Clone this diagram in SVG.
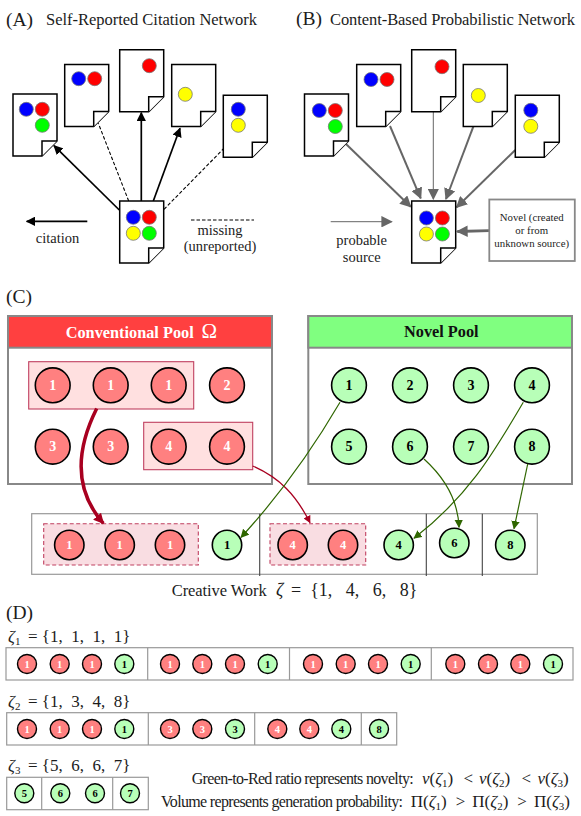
<svg xmlns="http://www.w3.org/2000/svg" width="581" height="816" viewBox="0 0 581 816">
<style>
text{font-family:"Liberation Serif","Times New Roman",serif;fill:#1c1c1c}
.doc{fill:#fff;stroke:#000;stroke-width:1.5;stroke-linejoin:miter}
.dc{stroke:#777;stroke-width:.8}
.b{fill:#0000ff}.rd{fill:#ff0000}.gn{fill:#00ff00}.y{fill:#ffff00}
.pl{font-size:19.5px}.tt{font-size:16.5px}.lg{font-size:14.5px;text-anchor:middle}.sm{font-size:10.8px;text-anchor:middle}
.n circle{stroke:#000;stroke-width:1.6}
.n text{font-weight:bold;text-anchor:middle;dominant-baseline:central}
.r circle{fill:#ff8080}.r text{fill:#fff}
.g circle{fill:#b8ffb8}.g text{fill:#000}
.s1 text{font-size:14px}.s2 text{font-size:12.5px}.s3 text{font-size:10.5px}.s3 circle{stroke-width:1.4}
.pool{fill:#fff;stroke:#888;stroke-width:2}
.hl{fill:#ffe0e0;stroke:#c04060;stroke-width:1.1}
.dh{fill:#f9dde2;stroke:#c04060;stroke-width:1.1;stroke-dasharray:4 2.5}
.wk{fill:#fff;stroke:#999;stroke-width:1.2}
.dv{stroke:#444;stroke-width:1.1}
.dv2{stroke:#999;stroke-width:1.2}
.cb{fill:none;stroke:#000;stroke-width:1.7}
.cd{fill:none;stroke:#000;stroke-width:1.1;stroke-dasharray:3.5 2}
.cg{fill:none;stroke:#666;stroke-width:2}
.m{font-size:17px;white-space:pre}.ml{font-size:18px;white-space:pre}.ms{font-size:16px}.mf{font-size:17px}.i{font-style:italic}
</style>
<defs>
<g id="page"><path class="doc" d="M0,0H44V47L29,62H0Z"/><path class="doc" d="M29,62V47H44" /></g>
<marker id="ak" markerUnits="userSpaceOnUse" viewBox="0 0 10 10" markerWidth="9.5" markerHeight="9.5" refX="9" refY="5" orient="auto"><path d="M0,0L10,5L0,10Z" fill="#000"/></marker>
<marker id="ag" markerUnits="userSpaceOnUse" viewBox="0 0 10 10" markerWidth="11.5" markerHeight="11.5" refX="9" refY="5" orient="auto"><path d="M0,0L10,5L0,10Z" fill="#666"/></marker>
<marker id="ar" markerUnits="userSpaceOnUse" viewBox="0 0 10 10" markerWidth="10.5" markerHeight="10.5" refX="9" refY="5" orient="auto"><path d="M0,0L10,5L0,10Z" fill="#a80020"/></marker>
<marker id="ar2" markerUnits="userSpaceOnUse" viewBox="0 0 10 10" markerWidth="7.5" markerHeight="7.5" refX="9" refY="5" orient="auto"><path d="M0,0L10,5L0,10Z" fill="#a80020"/></marker>
<marker id="agn" markerUnits="userSpaceOnUse" viewBox="0 0 10 10" markerWidth="8.5" markerHeight="8.5" refX="9" refY="5" orient="auto"><path d="M0,0L10,5L0,10Z" fill="#2f6600"/></marker>
</defs>

<g id="titles">
<text class="pl" x="6" y="26">(A)</text>
<text class="tt" x="46" y="25" textLength="211">Self-Reported Citation Network</text>
<text class="pl" x="296" y="25">(B)</text>
<text class="tt" x="330" y="25" textLength="245">Content-Based Probabilistic Network</text>
<text class="pl" x="6" y="303">(C)</text>
<text class="pl" x="6" y="619">(D)</text>
</g>

<g id="connectors">
<path class="cb" marker-end="url(#ak)" d="M119.3,210L54,145.7"/>
<path class="cd" d="M128.7,201L98.3,123.3"/>
<path class="cb" marker-end="url(#ak)" d="M141.3,201V112.7"/>
<path class="cb" marker-end="url(#ak)" d="M153.3,201L180,128.3"/>
<path class="cd" d="M164,209.3L223.3,149"/>
<path class="cb" marker-end="url(#ak)" d="M87.3,221.3H26.7"/>
<path class="cd" d="M191,220H254"/>
<path class="cg" marker-end="url(#ag)" d="M346,144L410.7,206.7"/>
<path class="cg" marker-end="url(#ag)" d="M390,126L420.7,198.3"/>
<path class="cg" style="stroke-width:1" marker-end="url(#ag)" d="M433.3,112V199"/>
<path class="cg" marker-end="url(#ag)" d="M473.3,126.7L446,199"/>
<path class="cg" marker-end="url(#ag)" d="M515.3,150L456.7,207.3"/>
<path class="cg" style="stroke-width:1" marker-end="url(#ag)" d="M330.7,221.7H391.7"/>
<path class="cg" style="stroke-width:2.8" marker-end="url(#ag)" d="M489.3,230.7L457.3,231.5"/>
</g>

<g id="a-doc1" transform="translate(13,94)"><use href="#page"/><circle class="dc b" cx="13.3" cy="15.3" r="7"/><circle class="dc rd" cx="29.3" cy="15.3" r="7"/><circle class="dc gn" cx="29.3" cy="31.3" r="7"/></g>
<g id="a-doc2" transform="translate(64.7,64.5)"><use href="#page"/><circle class="dc b" cx="14" cy="14.2" r="7"/><circle class="dc rd" cx="30" cy="14.2" r="7"/></g>
<g id="a-doc3" transform="translate(119.7,49.7)"><use href="#page"/><circle class="dc rd" cx="29.6" cy="16" r="7"/></g>
<g id="a-doc4" transform="translate(171.7,64.5)"><use href="#page"/><circle class="dc y" cx="13.6" cy="29.8" r="7"/></g>
<g id="a-doc5" transform="translate(223.3,95.3)"><use href="#page"/><circle class="dc b" cx="15" cy="14" r="7"/><circle class="dc y" cx="15" cy="30" r="7"/></g>
<g id="a-main" transform="translate(119.7,201)"><use href="#page"/><circle class="dc b" cx="13.6" cy="16.3" r="7"/><circle class="dc rd" cx="29.6" cy="16.3" r="7"/><circle class="dc y" cx="13.6" cy="32.3" r="7"/><circle class="dc gn" cx="29.6" cy="32.3" r="7"/></g>
<g id="a-legend">
<text class="lg" x="57.5" y="243">citation</text>
<text class="lg" x="220" y="235">missing</text>
<text class="lg" x="220" y="251">(unreported)</text>
</g>

<g id="b-doc1" transform="translate(304.5,94)"><use href="#page"/><circle class="dc b" cx="14.8" cy="16.5" r="7"/><circle class="dc rd" cx="30.8" cy="16.5" r="7"/><circle class="dc gn" cx="30.8" cy="32.5" r="7"/></g>
<g id="b-doc2" transform="translate(356.7,64.5)"><use href="#page"/><circle class="dc b" cx="14.3" cy="15" r="7"/><circle class="dc rd" cx="30.3" cy="15" r="7"/></g>
<g id="b-doc3" transform="translate(411.7,49.7)"><use href="#page"/><circle class="dc rd" cx="30.3" cy="17" r="7"/></g>
<g id="b-doc4" transform="translate(463.3,64.5)"><use href="#page"/><circle class="dc y" cx="15" cy="31" r="7"/></g>
<g id="b-doc5" transform="translate(515.3,95.3)"><use href="#page"/><circle class="dc b" cx="15.5" cy="15" r="7"/><circle class="dc y" cx="15.5" cy="31" r="7"/></g>
<g id="b-main" transform="translate(411.7,201)"><use href="#page"/><circle class="dc b" cx="14.7" cy="17" r="7"/><circle class="dc rd" cx="30.7" cy="17" r="7"/><circle class="dc y" cx="14.7" cy="33" r="7"/><circle class="dc gn" cx="30.7" cy="33" r="7"/></g>
<g id="b-novel"><rect x="489.3" y="199.5" width="85.5" height="61.5" fill="#fff" stroke="#888" stroke-width="1.8"/>
<text class="sm" x="531.7" y="221">Novel (created</text>
<text class="sm" x="531.7" y="234">or from</text>
<text class="sm" x="531.7" y="247">unknown source)</text></g>
<g id="b-legend">
<text class="lg" x="361.7" y="245">probable</text>
<text class="lg" x="361.7" y="262">source</text>
</g>

<g id="conventional-pool">
<rect class="pool" x="8" y="316" width="264" height="168"/>
<rect x="8" y="316" width="264" height="31.7" fill="#ff4040" stroke="#888" stroke-width="2"/>
<text x="65.7" y="338" textLength="128" style="fill:#fff;font-weight:bold;font-size:16.3px">Conventional Pool</text>
<text x="201.5" y="338" style="fill:#fff;font-size:21px">Ω</text>
<rect class="hl" x="28.7" y="361.7" width="165" height="47.3"/>
<rect class="hl" x="143.7" y="422.3" width="109" height="47.4"/>
</g>
<g id="c1" class="n r s1" transform="translate(52.7,385.3)"><circle r="17.4"/><text>1</text></g>
<g id="c2" class="n r s1" transform="translate(110.7,385.3)"><circle r="17.4"/><text>1</text></g>
<g id="c3" class="n r s1" transform="translate(168.7,385.3)"><circle r="17.4"/><text>1</text></g>
<g id="c4" class="n r s1" transform="translate(227,385.3)"><circle r="17.4"/><text>2</text></g>
<g id="c5" class="n r s1" transform="translate(52.7,446.7)"><circle r="17.4"/><text>3</text></g>
<g id="c6" class="n r s1" transform="translate(110.7,446.7)"><circle r="17.4"/><text>3</text></g>
<g id="c7" class="n r s1" transform="translate(168.7,446.7)"><circle r="17.4"/><text>4</text></g>
<g id="c8" class="n r s1" transform="translate(227,446.7)"><circle r="17.4"/><text>4</text></g>

<g id="novel-pool">
<rect class="pool" x="308.3" y="316" width="263.7" height="168"/>
<rect x="308.3" y="316" width="263.7" height="31.7" fill="#80ff80" stroke="#888" stroke-width="2"/>
<text x="441.3" y="337" text-anchor="middle" style="fill:#111;font-weight:bold;font-size:16.3px">Novel Pool</text>
</g>
<g id="n1" class="n g s1" transform="translate(349,385.3)"><circle r="17.4"/><text>1</text></g>
<g id="n2" class="n g s1" transform="translate(410,385.3)"><circle r="17.4"/><text>2</text></g>
<g id="n3" class="n g s1" transform="translate(471,385.3)"><circle r="17.4"/><text>3</text></g>
<g id="n4" class="n g s1" transform="translate(532,385.3)"><circle r="17.4"/><text>4</text></g>
<g id="n5" class="n g s1" transform="translate(349,446.7)"><circle r="17.4"/><text>5</text></g>
<g id="n6" class="n g s1" transform="translate(410,446.7)"><circle r="17.4"/><text>6</text></g>
<g id="n7" class="n g s1" transform="translate(471,446.7)"><circle r="17.4"/><text>7</text></g>
<g id="n8" class="n g s1" transform="translate(532,446.7)"><circle r="17.4"/><text>8</text></g>

<g id="creative-work">
<rect class="wk" x="31.7" y="513.7" width="505.6" height="60.6"/>
<path class="dv" d="M259.7,513.7V576M426.3,513.7V576M482.3,513.7V576"/>
<rect class="dh" x="43.7" y="523.7" width="154.6" height="41.3"/>
<rect class="dh" x="270" y="523.7" width="95.7" height="41.3"/>
<text class="m" x="171.7" y="596" textLength="95" style="font-size:16.5px">Creative Work</text>
<text class="ml" x="276" y="596"><tspan class="i">ζ</tspan></text>
<text class="ml" x="291" y="596">=  {1,   4,   6,   8}</text>
</g>
<g id="w1" class="n r s2" transform="translate(69.3,545)"><circle r="14.7"/><text>1</text></g>
<g id="w2" class="n r s2" transform="translate(119.7,545)"><circle r="14.7"/><text>1</text></g>
<g id="w3" class="n r s2" transform="translate(170,545)"><circle r="14.7"/><text>1</text></g>
<g id="w4" class="n g s2" transform="translate(227,545)"><circle r="14.7"/><text>1</text></g>
<g id="w5" class="n r s2" transform="translate(292.7,545)"><circle r="14.7"/><text>4</text></g>
<g id="w6" class="n r s2" transform="translate(343,545)"><circle r="14.7"/><text>4</text></g>
<g id="w7" class="n g s2" transform="translate(398.7,545)"><circle r="14.7"/><text>4</text></g>
<g id="w8" class="n g s2" transform="translate(454.3,543)"><circle r="14.7"/><text>6</text></g>
<g id="w9" class="n g s2" transform="translate(510.3,545)"><circle r="14.7"/><text>8</text></g>

<g id="pool-connectors" fill="none">
<path stroke="#a80020" stroke-width="3.5" marker-end="url(#ar)" d="M96.7,408.5C76,450 74,490 103.3,523.3"/>
<path stroke="#a80020" stroke-width="1.3" marker-end="url(#ar2)" d="M252.7,466C280,478 296,495 310,522.7"/>
<path stroke="#2f6600" stroke-width="1.2" marker-end="url(#agn)" d="M340,402.3C315,445 280,495 241,537.3"/>
<path stroke="#2f6600" stroke-width="1.2" marker-end="url(#agn)" d="M523.3,402.3C495,450 470,495 414,538.3"/>
<path stroke="#2f6600" stroke-width="1.2" marker-end="url(#agn)" d="M424,459C445,478 458,500 459,527.3"/>
<path stroke="#2f6600" stroke-width="1.2" marker-end="url(#agn)" d="M527.7,464L514,528.7"/>
</g>

<g id="zeta1">
<text class="m" x="8" y="641.5"><tspan class="i">ζ</tspan><tspan font-size="11" dy="3">1</tspan></text>
<text class="m" x="28" y="641.5">= {1,  1,  1,  1}</text>
<rect class="wk" x="6" y="647.7" width="567" height="32.3"/>
<path class="dv2" d="M147.7,647.7V680M289.5,647.7V680M431.3,647.7V680"/>
</g>
<g id="z1a" class="n r s3" transform="translate(27,664)"><circle r="9.5"/><text>1</text></g>
<g id="z1b" class="n r s3" transform="translate(59.7,664)"><circle r="9.5"/><text>1</text></g>
<g id="z1c" class="n r s3" transform="translate(92,664)"><circle r="9.5"/><text>1</text></g>
<g id="z1d" class="n g s3" transform="translate(124.3,664)"><circle r="9.5"/><text>1</text></g>
<g id="z1e" class="n r s3" transform="translate(170,664)"><circle r="9.5"/><text>1</text></g>
<g id="z1f" class="n r s3" transform="translate(202.3,664)"><circle r="9.5"/><text>1</text></g>
<g id="z1g" class="n r s3" transform="translate(235,664)"><circle r="9.5"/><text>1</text></g>
<g id="z1h" class="n g s3" transform="translate(267.7,664)"><circle r="9.5"/><text>1</text></g>
<g id="z1i" class="n r s3" transform="translate(313,664)"><circle r="9.5"/><text>1</text></g>
<g id="z1j" class="n r s3" transform="translate(345.7,664)"><circle r="9.5"/><text>1</text></g>
<g id="z1k" class="n r s3" transform="translate(378,664)"><circle r="9.5"/><text>1</text></g>
<g id="z1l" class="n g s3" transform="translate(410.7,664)"><circle r="9.5"/><text>1</text></g>
<g id="z1m" class="n r s3" transform="translate(455.3,664)"><circle r="9.5"/><text>1</text></g>
<g id="z1n" class="n r s3" transform="translate(488,664)"><circle r="9.5"/><text>1</text></g>
<g id="z1o" class="n r s3" transform="translate(520.3,664)"><circle r="9.5"/><text>1</text></g>
<g id="z1p" class="n g s3" transform="translate(553,664)"><circle r="9.5"/><text>1</text></g>

<g id="zeta2">
<text class="m" x="8" y="706.5"><tspan class="i">ζ</tspan><tspan font-size="11" dy="3">2</tspan></text>
<text class="m" x="28" y="706.5">= {1,  3,  4,  8}</text>
<rect class="wk" x="6.7" y="712.7" width="390" height="32.3"/>
<path class="dv2" d="M148.3,712.7V745M254.7,712.7V745M361.3,712.7V745"/>
</g>
<g id="z2a" class="n r s3" transform="translate(27,729)"><circle r="9.5"/><text>1</text></g>
<g id="z2b" class="n r s3" transform="translate(59.7,729)"><circle r="9.5"/><text>1</text></g>
<g id="z2c" class="n r s3" transform="translate(92,729)"><circle r="9.5"/><text>1</text></g>
<g id="z2d" class="n g s3" transform="translate(124.3,729)"><circle r="9.5"/><text>1</text></g>
<g id="z2e" class="n r s3" transform="translate(170,729)"><circle r="9.5"/><text>3</text></g>
<g id="z2f" class="n r s3" transform="translate(202.3,729)"><circle r="9.5"/><text>3</text></g>
<g id="z2g" class="n g s3" transform="translate(235,729)"><circle r="9.5"/><text>3</text></g>
<g id="z2h" class="n r s3" transform="translate(277.3,729)"><circle r="9.5"/><text>4</text></g>
<g id="z2i" class="n r s3" transform="translate(309.3,729)"><circle r="9.5"/><text>4</text></g>
<g id="z2j" class="n g s3" transform="translate(341.3,729)"><circle r="9.5"/><text>4</text></g>
<g id="z2k" class="n g s3" transform="translate(379,729)"><circle r="9.5"/><text>8</text></g>

<g id="zeta3">
<text class="m" x="8" y="771"><tspan class="i">ζ</tspan><tspan font-size="11" dy="3">3</tspan></text>
<text class="m" x="28" y="771">= {5,  6,  6,  7}</text>
<rect class="wk" x="6.7" y="777.3" width="141.6" height="32.4"/>
<path class="dv2" d="M41.7,777.3V809.7M112.7,777.3V809.7"/>
</g>
<g id="z3a" class="n g s3" transform="translate(24.3,793.3)"><circle r="9.5"/><text>5</text></g>
<g id="z3b" class="n g s3" transform="translate(60.3,793.3)"><circle r="9.5"/><text>6</text></g>
<g id="z3c" class="n g s3" transform="translate(95,793.3)"><circle r="9.5"/><text>6</text></g>
<g id="z3d" class="n g s3" transform="translate(130,793.3)"><circle r="9.5"/><text>7</text></g>

<g id="notes">
<text class="ms" x="191.7" y="784" textLength="222">Green-to-Red ratio represents novelty:</text>
<text class="mf" y="784"><tspan x="422" class="i">ν</tspan>(<tspan class="i">ζ</tspan><tspan font-size="11" dy="3">1</tspan><tspan dy="-3">)</tspan><tspan x="463.5">&lt;</tspan><tspan x="479" class="i">ν</tspan>(<tspan class="i">ζ</tspan><tspan font-size="11" dy="3">2</tspan><tspan dy="-3">)</tspan><tspan x="521.5">&lt;</tspan><tspan x="537.5" class="i">ν</tspan>(<tspan class="i">ζ</tspan><tspan font-size="11" dy="3">3</tspan><tspan dy="-3">)</tspan></text>
<text class="ms" x="161" y="807" textLength="242">Volume represents generation probability:</text>
<text class="mf" y="807"><tspan x="410.7">Π(</tspan><tspan class="i">ζ</tspan><tspan font-size="11" dy="3">1</tspan><tspan dy="-3">)</tspan><tspan x="455.7">&gt;</tspan><tspan x="472.3">Π(</tspan><tspan class="i">ζ</tspan><tspan font-size="11" dy="3">2</tspan><tspan dy="-3">)</tspan><tspan x="517.3">&gt;</tspan><tspan x="534">Π(</tspan><tspan class="i">ζ</tspan><tspan font-size="11" dy="3">3</tspan><tspan dy="-3">)</tspan></text>
</g>
</svg>
